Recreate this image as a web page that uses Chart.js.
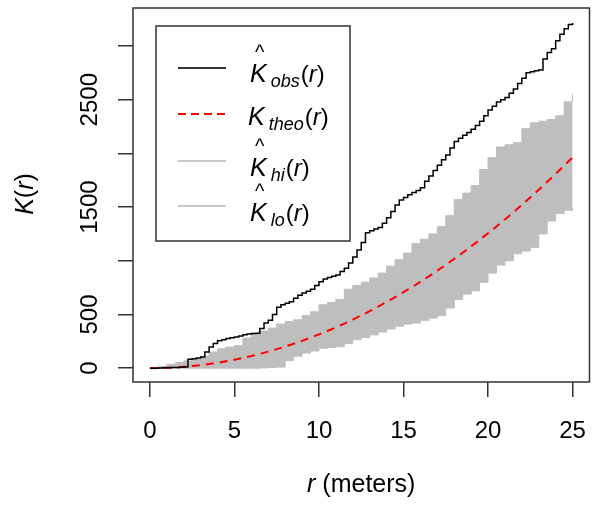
<!DOCTYPE html>
<html>
<head>
<meta charset="utf-8">
<script src="https://cdn.jsdelivr.net/npm/chart.js@4.4.1/dist/chart.umd.min.js"></script>
<style>
  html, body { margin: 0; padding: 0; background: #fff; }
</style>
</head>
<body>
<canvas id="kChart" width="606" height="506"></canvas>
<script>
// r grid for the envelope and theoretical curve (meters)
const rValues = [0, 0.5, 1, 1.5, 2, 2.5, 3, 3.5, 4, 4.5, 5, 5.5, 6, 6.5, 7, 7.5, 8, 8.5, 9, 9.5,
  10, 10.5, 11, 11.5, 12, 12.5, 13, 13.5, 14, 14.5, 15, 15.5, 16, 16.5, 17, 17.5, 18, 18.5, 19, 19.5,
  20, 20.5, 21, 21.5, 22, 22.5, 23, 23.5, 24, 24.5, 25];

// finer r grid for the observed curve
const rObs = [0, 0.25, 0.5, 0.75, 1, 1.25, 1.5, 1.75, 2, 2.25, 2.5, 2.75, 3, 3.25, 3.5, 3.75, 4, 4.25, 4.5, 4.75,
  5, 5.25, 5.5, 5.75, 6, 6.25, 6.5, 6.75, 7, 7.25, 7.5, 7.75, 8, 8.25, 8.5, 8.75, 9, 9.25, 9.5, 9.75,
  10, 10.25, 10.5, 10.75, 11, 11.25, 11.5, 11.75, 12, 12.25, 12.5, 12.75, 13, 13.25, 13.5, 13.75, 14, 14.25, 14.5, 14.75,
  15, 15.25, 15.5, 15.75, 16, 16.25, 16.5, 16.75, 17, 17.25, 17.5, 17.75, 18, 18.25, 18.5, 18.75, 19, 19.25, 19.5, 19.75,
  20, 20.25, 20.5, 20.75, 21, 21.25, 21.5, 21.75, 22, 22.25, 22.5, 22.75, 23, 23.25, 23.5, 23.75, 24, 24.25, 24.5, 24.75, 25];

const kObs = [0, 0, 2, 3, 4, 5, 6, 8, 10, 84, 88, 95, 103, 150, 196, 230, 255, 265, 275, 282,
  289, 300, 310, 317, 322, 326, 370, 420, 447, 500, 568, 590, 605, 618, 650, 680, 700, 715, 735, 770,
  805, 830, 845, 855, 867, 900, 930, 980, 1034, 1100, 1170, 1260, 1280, 1295, 1310, 1350, 1400, 1460, 1520, 1566,
  1590, 1615, 1635, 1655, 1680, 1740, 1790, 1840, 1890, 1940, 1985, 2050, 2110, 2140, 2170, 2195, 2225, 2260, 2300, 2350,
  2404, 2440, 2479, 2500, 2520, 2560, 2600, 2650, 2700, 2750, 2760, 2770, 2777, 2880, 2940, 2975, 3050, 3110, 3160, 3200, 3215];

// theoretical K(r)
const kTheo = [0, 0.8, 3.1, 7.1, 12.6, 19.6, 28.3, 38.5, 50.3, 63.6, 78.5, 95, 113, 133, 154, 177, 201, 227, 254, 284,
  314, 346, 380, 415, 452, 491, 531, 573, 616, 661, 707, 755, 804, 855, 908, 962, 1018, 1075, 1134, 1195,
  1257, 1320, 1385, 1452, 1521, 1590, 1662, 1735, 1810, 1886, 1963];

// upper envelope
const kHi = [0, 15, 35, 52, 68, 85, 110, 150, 180, 196, 210, 280, 318, 345, 373, 410, 435, 450, 490, 525,
  590, 612, 640, 735, 770, 801, 840, 885, 950, 1010, 1072, 1160, 1200, 1250, 1320, 1420, 1570, 1630, 1700, 1850,
  1960, 2060, 2080, 2100, 2230, 2285, 2300, 2315, 2350, 2480, 2553];

// lower envelope
const kLo = [0, 0, 0, 0, 0, 0, 0, 0, 0, 0, 0, 0, 0, 2, 5, 10, 70, 110, 140, 160,
  185, 192, 200, 230, 265, 285, 310, 336, 365, 390, 410, 420, 445, 466, 490, 560, 640, 690, 720, 800,
  885, 960, 1000, 1065, 1090, 1125, 1250, 1370, 1440, 1470, 1491];

const xTicks = [0, 5, 10, 15, 20, 25];
const yTicks = [0, 500, 1000, 1500, 2000, 2500, 3000];
const yLabels = [0, 500, 1500, 2500];

const FONT = '"Liberation Sans", Arial, Helvetica, sans-serif';

function toPoints(xs, ys) {
    return xs.map((r, i) => ({ x: r, y: ys[i] }));
}

function drawRich(ctx, parts, x, y) {
    parts.forEach(p => {
        ctx.font = p.font;
        ctx.fillText(p.t, x, y + (p.dy || 0));
        x += ctx.measureText(p.t).width + (p.gap || 0);
    });
}

function richWidth(ctx, parts) {
    let w = 0;
    parts.forEach(p => {
        ctx.font = p.font;
        w += ctx.measureText(p.t).width + (p.gap || 0);
    });
    return w;
}

const it = s => 'italic ' + s + 'px ' + FONT;
const up = s => s + 'px ' + FONT;

const rPlotDecor = {
    id: 'rPlotDecor',
    afterDraw(chart) {
        const ctx = chart.ctx;
        const a = chart.chartArea;
        const ys = chart.scales.y;
        ctx.save();

        // box around the plot region
        ctx.strokeStyle = '#333';
        ctx.lineWidth = 1.5;
        ctx.strokeRect(a.left, a.top, a.right - a.left, a.bottom - a.top);

        // rotated y tick labels
        ctx.fillStyle = '#000';
        ctx.textBaseline = 'alphabetic';
        ctx.textAlign = 'center';
        ctx.font = up(24);
        yLabels.forEach(v => {
            ctx.save();
            ctx.translate(97, ys.getPixelForValue(v));
            ctx.rotate(-Math.PI / 2);
            ctx.fillText(String(v), 0, 0);
            ctx.restore();
        });

        ctx.textAlign = 'left';
        // x title
        const xt = [{ t: 'r', font: it(25) }, { t: ' (meters)', font: up(25) }];
        drawRich(ctx, xt, (a.left + a.right) / 2 - richWidth(ctx, xt) / 2, 492);

        // y title
        const yt = [{ t: 'K', font: it(25) }, { t: '(', font: up(25) }, { t: 'r', font: it(25) }, { t: ')', font: up(25) }];
        ctx.save();
        ctx.translate(33, 194);
        ctx.rotate(-Math.PI / 2);
        drawRich(ctx, yt, -richWidth(ctx, yt) / 2, 0);
        ctx.restore();

        // legend
        ctx.fillStyle = '#fff';
        ctx.fillRect(156, 26, 194, 215);
        ctx.strokeStyle = '#333';
        ctx.lineWidth = 1.5;
        ctx.strokeRect(156, 26, 194, 215);

        const entries = [
            { y: 68, base: 82, color: '#333', dash: [], hat: true, sub: 'obs' },
            { y: 114, base: 125, color: '#ff0000', dash: [8, 5], hat: false, sub: 'theo' },
            { y: 161, base: 176, color: '#c8c8c8', dash: [], hat: true, sub: 'hi' },
            { y: 206, base: 221, color: '#c8c8c8', dash: [], hat: true, sub: 'lo' }
        ];
        entries.forEach(e => {
            ctx.strokeStyle = e.color;
            ctx.lineWidth = 2;
            ctx.setLineDash(e.dash);
            ctx.beginPath();
            ctx.moveTo(178, e.y);
            ctx.lineTo(226, e.y);
            ctx.stroke();
            ctx.setLineDash([]);

            ctx.fillStyle = '#000';
            const tx = e.hat ? 250 : 248;
            if (e.hat) {
                ctx.font = up(20);
                ctx.fillText('^', tx + 5, e.base - 23);
            }
            drawRich(ctx, [
                { t: 'K', font: it(25), gap: 4 },
                { t: e.sub, font: it(18), dy: 5, gap: 1 },
                { t: '(', font: up(24) },
                { t: 'r', font: it(24) },
                { t: ')', font: up(24) }
            ], tx, e.base);
        });

        ctx.restore();
    }
};

const ctx = document.getElementById('kChart').getContext('2d');
new Chart(ctx, {
    type: 'line',
    data: {
        datasets: [
            {
                label: 'obs',
                data: toPoints(rObs, kObs),
                borderColor: '#000',
                borderWidth: 1.5,
                stepped: true,
                pointRadius: 0,
                fill: false
            },
            {
                label: 'theo',
                data: toPoints(rValues, kTheo),
                borderColor: '#ff0000',
                borderWidth: 2,
                borderDash: [8, 6],
                pointRadius: 0,
                fill: false
            },
            {
                label: 'hi',
                data: toPoints(rValues, kHi),
                borderColor: '#bebebe',
                backgroundColor: '#bebebe',
                borderWidth: 1,
                stepped: true,
                pointRadius: 0,
                fill: '+1'
            },
            {
                label: 'lo',
                data: toPoints(rValues, kLo),
                borderColor: '#bebebe',
                borderWidth: 1,
                stepped: true,
                pointRadius: 0,
                fill: false
            }
        ]
    },
    options: {
        responsive: false,
        animation: false,
        layout: { padding: { top: 8, right: 2, left: 0, bottom: 0 } },
        plugins: {
            legend: { display: false },
            tooltip: { enabled: false }
        },
        scales: {
            x: {
                type: 'linear',
                min: -1,
                max: 26,
                afterBuildTicks: s => { s.ticks = xTicks.map(v => ({ value: v })); },
                afterFit: s => { s.height = 124; },
                grid: { drawOnChartArea: false, drawTicks: true, tickLength: 15, color: '#333', lineWidth: 1.5 },
                border: { display: false },
                ticks: { color: '#000', font: { family: FONT, size: 24 }, padding: 20, maxRotation: 0, autoSkip: false }
            },
            y: {
                type: 'linear',
                min: -129,
                max: 3354,
                afterBuildTicks: s => { s.ticks = yTicks.map(v => ({ value: v })); },
                afterFit: s => { s.width = 133; },
                grid: { drawOnChartArea: false, drawTicks: true, tickLength: 15, color: '#333', lineWidth: 1.5 },
                border: { display: false },
                ticks: { display: false }
            }
        }
    },
    plugins: [rPlotDecor]
});
</script>
</body>
</html>
